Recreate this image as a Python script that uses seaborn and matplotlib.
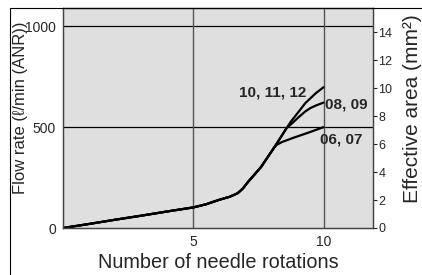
import pandas as pd
import matplotlib.pyplot as plt
import seaborn as sns
from matplotlib.patches import Rectangle

# shared part of the curve (all needle sizes)
stem_rot = [0, 1, 2, 3, 4, 5, 5.5, 6, 6.4, 6.7, 6.9, 7.1, 7.6, 8.1]
stem_flow = [0, 20, 41, 61, 82, 102, 118, 140, 155, 172, 195, 228, 302, 398]

# branches after the split
rot_0607 = [8.2, 8.4, 8.9, 9.4, 10]
flow_0607 = [412, 426, 450, 472, 500]
rot_0809 = [8.35, 8.58, 8.8, 9.05, 9.3, 9.5, 9.7, 10]
flow_0809 = [448, 495, 520, 550, 578, 595, 607, 622]
rot_1012 = [8.35, 8.58, 8.75, 9.0, 9.3, 9.7, 10]
flow_1012 = [448, 495, 528, 569, 619, 668, 698]

labels = ["06, 07", "08, 09", "10, 11, 12"]
left_ticks = [0, 500, 1000]
bottom_ticks = [5, 10]
right_ticks = [0, 2, 4, 6, 8, 10, 12, 14]

rows = []
for lab, rr, ff in zip(labels, [rot_0607, rot_0809, rot_1012], [flow_0607, flow_0809, flow_1012]):
    for r, f in zip(stem_rot + rr, stem_flow + ff):
        rows.append({"rot": r, "flow": f, "size": lab})
df = pd.DataFrame(rows)

sns.set_style("white", {"axes.facecolor": "#dfdfdf"})
plt.rcParams["font.family"] = ["Liberation Sans", "DejaVu Sans"]

fig = plt.figure(figsize=(4.22, 2.75), dpi=100)
ax = fig.add_axes([63/422, 1-228/275, 310/422, 220/275])

sns.lineplot(data=df, x="rot", y="flow", units="size", estimator=None,
             color="black", linewidth=1.6, sort=False, ax=ax)

ax.set_xlim(0, 11.9)
ax.set_ylim(0, 1091)
ax.set_xticks(bottom_ticks)
ax.set_yticks(left_ticks)
for v in [500, 1000]:
    ax.axhline(v, color="black", lw=0.9, zorder=1)
for v in bottom_ticks:
    ax.axvline(v, color="#555555", lw=1.0, zorder=1)
ax.tick_params(axis="both", length=0, labelsize=10)
ax.tick_params(axis="y", pad=5)
ax.tick_params(axis="x", pad=5)
for s in ax.spines.values():
    s.set_color("#444444")
    s.set_linewidth(0.9)

ax.set_xlabel("Number of needle rotations", fontsize=14.3, labelpad=3)
ax.set_ylabel("Flow rate (ℓ/min (ANR))", fontsize=12)
ax.yaxis.set_label_coords(-0.136, 0.545)
ax.yaxis.label.set_va("center")

ax.text(9.35, 673, "10, 11, 12", fontsize=11, fontweight="bold", ha="right", va="center")
ax.text(10.05, 612, "08, 09", fontsize=11, fontweight="bold", ha="left", va="center")
ax.text(9.85, 440, "06, 07", fontsize=11, fontweight="bold", ha="left", va="center")

ax2 = ax.twinx()
ax2.set_ylim(0, 15.75)
ax2.set_yticks(right_ticks)
ax2.tick_params(axis="y", direction="out", length=3, width=0.8, pad=1, labelsize=9)
for s in ax2.spines.values():
    s.set_color("#444444")
    s.set_linewidth(0.9)
ax2.set_ylabel("Effective area (mm²)", fontsize=15)
ax2.yaxis.set_label_coords(1.129, 0.543)
ax2.yaxis.label.set_va("center")

# outer frame of the original figure
fig.patches.append(Rectangle((10/422, -0.2), 1.2, 1.2 - 8/275, transform=fig.transFigure,
                             fill=False, edgecolor="black", lw=0.8, clip_on=False))

fig.savefig("out.png", dpi=100)
